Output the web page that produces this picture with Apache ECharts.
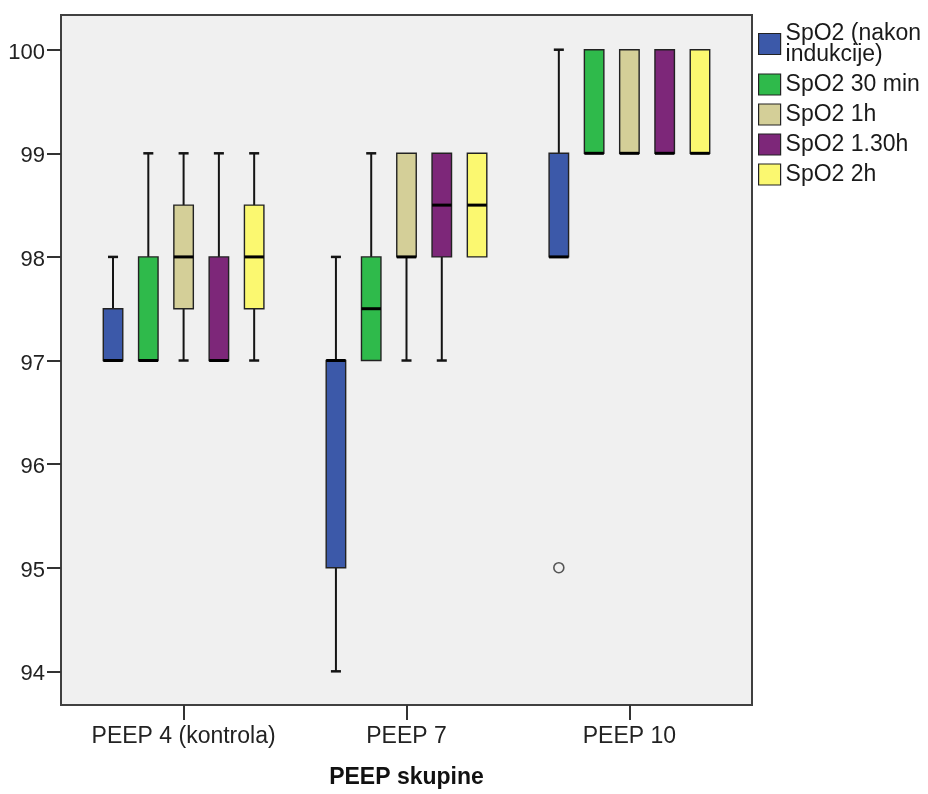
<!DOCTYPE html>
<html>
<head>
<meta charset="utf-8">
<script src="https://cdn.jsdelivr.net/npm/echarts@6/dist/echarts.min.js"></script>
<style>html,body{margin:0;padding:0;background:#fff}#c{width:928px;height:794px}</style>
</head>
<body>
<div id="c"></div>
<script>
// ---- data ----
const categories = ['PEEP 4 (kontrola)', 'PEEP 7', 'PEEP 10'];
const seriesNames = ['SpO2 (nakon\nindukcije)', 'SpO2 30 min', 'SpO2 1h', 'SpO2 1.30h', 'SpO2 2h'];
const yTicks = [94, 95, 96, 97, 98, 99, 100];
// each entry per category: [min, q1, median, q3, max]
const spo2Induction = [[97, 97, 97, 97.5, 98], [94, 95, 97, 97, 98], [98, 98, 98, 99, 100]];
const spo2Min30     = [[97, 97, 97, 98, 99],   [97, 97, 97.5, 98, 99], [99, 99, 99, 100, 100]];
const spo2H1        = [[97, 97.5, 98, 98.5, 99], [97, 98, 98, 99, 99], [99, 99, 99, 100, 100]];
const spo2H130      = [[97, 97, 97, 98, 99],   [97, 98, 98.5, 99, 99], [99, 99, 99, 100, 100]];
const spo2H2        = [[97, 97.5, 98, 98.5, 99], [98, 98, 98.5, 99, 99], [99, 99, 99, 100, 100]];
// outliers: [category index, series index, value]
const outliers = [[2, 0, 95]];

const allSeries = [spo2Induction, spo2Min30, spo2H1, spo2H130, spo2H2];
const colors = ['#3c59a9', '#2fba4b', '#d4cf98', '#7d2779', '#fbf870'];

// layout in axis units
const PITCH = 0.1583;
const BOX_W = 0.0874;
const CAP_W = 0.045;
const N = allSeries.length;

function offsetX(cat, si) { return cat + (si - (N - 1) / 2) * PITCH; }

function makeBoxRender(si) {
  return function (params, api) {
    const x = offsetX(api.value(0), si);
    const vMin = api.value(1), vQ1 = api.value(2), vMed = api.value(3), vQ3 = api.value(4), vMax = api.value(5);
    const pMin = api.coord([x, vMin]), pQ1 = api.coord([x, vQ1]), pMed = api.coord([x, vMed]),
          pQ3 = api.coord([x, vQ3]), pMax = api.coord([x, vMax]);
    const bw = api.size([BOX_W, 0])[0];
    const cw = api.size([CAP_W, 0])[0];
    const cx = pMin[0];
    const ls = { stroke: '#141414', lineWidth: 2 };
    const children = [];
    if (vMin < vQ1) {
      children.push({ type: 'line', shape: { x1: cx, y1: pQ1[1], x2: cx, y2: pMin[1] }, style: ls });
      children.push({ type: 'line', shape: { x1: cx - cw / 2, y1: pMin[1], x2: cx + cw / 2, y2: pMin[1] }, style: { stroke: '#141414', lineWidth: 2.5 } });
    }
    if (vMax > vQ3) {
      children.push({ type: 'line', shape: { x1: cx, y1: pQ3[1], x2: cx, y2: pMax[1] }, style: ls });
      children.push({ type: 'line', shape: { x1: cx - cw / 2, y1: pMax[1], x2: cx + cw / 2, y2: pMax[1] }, style: { stroke: '#141414', lineWidth: 2.5 } });
    }
    children.push({
      type: 'rect',
      shape: { x: cx - bw / 2, y: pQ3[1], width: bw, height: pQ1[1] - pQ3[1] },
      style: { fill: api.visual('color'), stroke: '#222', lineWidth: 1.4 }
    });
    children.push({ type: 'line', shape: { x1: cx - bw / 2, y1: pMed[1], x2: cx + bw / 2, y2: pMed[1] }, style: { stroke: '#000', lineWidth: 3 } });
    return { type: 'group', children: children };
  };
}

const series = allSeries.map(function (vals, si) {
  return {
    type: 'custom',
    name: seriesNames[si],
    itemStyle: { color: colors[si] },
    renderItem: makeBoxRender(si),
    encode: { x: 0, y: [1, 2, 3, 4, 5] },
    data: vals.map(function (v, ci) { return [ci].concat(v); }),
    z: 3
  };
});

series.push({
  type: 'custom',
  renderItem: function (params, api) {
    const p = api.coord([offsetX(api.value(0), api.value(1)), api.value(2)]);
    return { type: 'circle', shape: { cx: p[0], cy: p[1], r: 5 }, style: { fill: 'none', stroke: '#555', lineWidth: 1.6 } };
  },
  encode: { x: 0, y: 2 },
  data: outliers,
  z: 4
});

const FONT = "'Liberation Sans', Arial, sans-serif";
const chart = echarts.init(document.getElementById('c'), null, { renderer: 'canvas' });
chart.setOption({
  animation: false,
  backgroundColor: '#ffffff',
  grid: {
    left: 61, top: 15, width: 691, height: 691,
    show: true, backgroundColor: '#f0f0f0', borderColor: '#404040', borderWidth: 2
  },
  legend: {
    data: seriesNames,
    orient: 'vertical',
    left: 758, top: 22,
    padding: 0,
    icon: 'rect',
    itemWidth: 22, itemHeight: 21, itemGap: 7,
    itemStyle: { borderColor: '#222', borderWidth: 1.2 },
    textStyle: { fontFamily: FONT, fontSize: 23, lineHeight: 21, color: '#1a1a1a' }
  },
  xAxis: {
    type: 'value',
    min: -0.55, max: 2.55,
    name: 'PEEP skupine',
    nameLocation: 'middle',
    nameGap: 61,
    nameTextStyle: { fontFamily: FONT, fontSize: 23, fontWeight: 'bold', color: '#111', verticalAlign: 'top' },
    axisLine: { show: false, onZero: false },
    splitLine: { show: false },
    axisTick: { show: true, length: 15, lineStyle: { color: '#333', width: 2 }, customValues: [0, 1, 2] },
    axisLabel: {
      customValues: [0, 1, 2],
      formatter: function (v) { return categories[Math.round(v)]; },
      fontFamily: FONT, fontSize: 23, color: '#222', margin: 20
    }
  },
  yAxis: {
    type: 'value',
    min: 93.675, max: 100.335,
    axisLine: { show: false, onZero: false },
    splitLine: { show: false },
    axisTick: { show: true, length: 14, lineStyle: { color: '#333', width: 2 }, customValues: yTicks },
    axisLabel: {
      customValues: yTicks,
      fontFamily: FONT, fontSize: 22, color: '#222', margin: 16,
      verticalAlign: 'top', lineHeight: 22, padding: [-8, 0, 0, 0]
    }
  },
  series: series
});
</script>
</body>
</html>
